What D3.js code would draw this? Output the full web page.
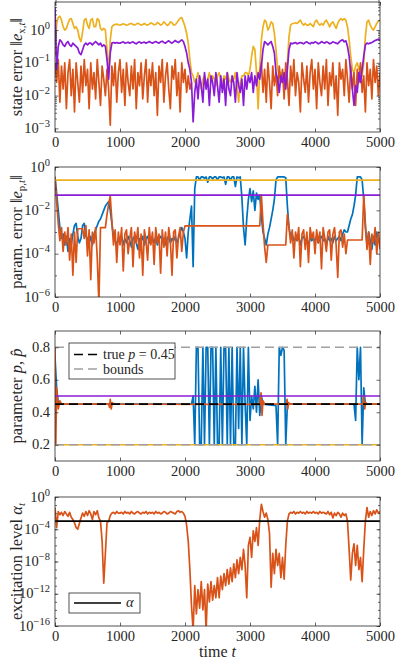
<!DOCTYPE html>
<html>
<head>
<meta charset="utf-8">
<title>estimation errors</title>
<style>
  body{margin:0;background:#fff;}
  text{font-family:"Liberation Serif",serif;font-size:14.5px;fill:#262626;}
  .box{fill:none;stroke:#262626;stroke-width:0.8;}
  .tick line{stroke:#262626;stroke-width:0.7;}
  .series{fill:none;stroke-width:1.7;stroke-linejoin:round;}
</style>
</head>
<body>
<script src="https://d3js.org/d3.v7.min.js"></script>
<script>
var tStep = 25;            // samples every 25 time steps, t = 0..5000
var xTicks = [0, 1000, 2000, 3000, 4000, 5000];

// panel 1: state error, log10 of ||e_x,t||
var stateYellow = [
  -0.8, 0.2, 0.38, 0.42, 0.3, 0.1, 0.0, 0.05, 0.2, 0.33, 0.35, 0.2, 0.05, 0.1, 0.0, -0.25, -0.35, -0.05, 0.3, 0.35,
  0.15, 0.05, 0.3, 0.35, 0.1, 0.1, 0.35, 0.3, 0.05, 0.0, 0.05, 0.0, -0.6, -1.3, -0.3, 0.1, 0.15, 0.17, 0.18, 0.16,
  0.15, 0.17, 0.19, 0.17, 0.15, 0.16, 0.19, 0.2, 0.17, 0.15, 0.18, 0.21, 0.18, 0.15, 0.17, 0.2, 0.17, 0.15, 0.18, 0.22,
  0.2, 0.16, 0.17, 0.23, 0.2, 0.15, 0.18, 0.25, 0.2, 0.14, 0.17, 0.25, 0.22, 0.15, 0.16, 0.22, 0.3, 0.36, 0.38, 0.25,
  0.1, -0.1, -0.4, -0.9, -1.3, -1.4, -1.6, -1.5, -1.3, -1.6, -1.8, -1.5, -1.4, -1.7, -1.5, -1.3, -1.6, -1.4, -1.5, -1.7,
  -1.4, -1.3, -1.5, -1.6, -1.4, -1.5, -1.3, -1.5, -1.6, -1.4, -1.5, -1.3, -1.7, -2.2, -1.6, -1.4, -1.4, -1.3, -1.3, -1.4,
  -1.2, -0.8, -0.5, -0.6, -1.3, -2.4, -1.2, -0.3, 0.1, 0.3, 0.25, 0.0, 0.1, 0.25, 0.2, -0.1, -0.6, -1.2, -1.4, -1.3,
  -1.5, -1.4, -1.3, -1.0, -0.2, 0.15, 0.2, 0.2, 0.22, 0.2, 0.25, 0.3, 0.2, 0.15, 0.2, 0.15, 0.15, 0.2, 0.15, 0.1,
  0.25, 0.3, 0.2, 0.15, 0.2, 0.15, 0.25, 0.3, 0.2, 0.1, 0.2, 0.25, 0.15, 0.05, 0.2, 0.3, 0.35, 0.3, 0.35, 0.3,
  0.1, -0.3, -0.8, -1.2, -1.3, -1.1, -1.0, -1.2, -1.1, -1.4, -1.0, -0.2, 0.25, 0.3, 0.15, 0.05, 0.0, 0.1, 0.2, 0.28,
  0.3];
var statePurple = [
  0.7, -1.2, -0.5, -0.3, -0.35, -0.45, -0.5, -0.4, -0.35, -0.45, -0.5, -0.4, -0.45, -0.5, -0.55, -0.7, -0.75, -0.6, -0.45, -0.4,
  -0.45, -0.4, -0.4, -0.45, -0.4, -0.35, -0.4, -0.45, -0.4, -0.5, -0.45, -0.5, -0.9, -1.5, -0.7, -0.4, -0.38, -0.4, -0.38, -0.4,
  -0.4, -0.38, -0.36, -0.4, -0.39, -0.37, -0.4, -0.38, -0.36, -0.4, -0.42, -0.38, -0.36, -0.4, -0.38, -0.37, -0.4, -0.38, -0.35, -0.38,
  -0.4, -0.37, -0.35, -0.38, -0.4, -0.36, -0.34, -0.38, -0.4, -0.36, -0.33, -0.37, -0.4, -0.36, -0.32, -0.36, -0.38, -0.34, -0.3, -0.35,
  -0.5, -0.7, -1.0, -1.2, -1.6, -2.8, -1.9, -1.5, -2.1, -1.4, -1.7, -2.2, -1.3, -1.8, -1.5, -2.3, -1.4, -1.6, -2.0, -1.3,
  -1.7, -2.2, -1.4, -1.9, -1.5, -2.3, -1.3, -1.8, -2.0, -1.4, -1.6, -2.2, -1.3, -1.7, -1.9, -1.5, -2.3, -1.4, -1.8, -1.4,
  -1.6, -1.3, -1.9, -1.4, -1.7, -1.3, -1.5, -1.1, -0.6, -0.35, -0.4, -0.45, -0.4, -0.35, -0.5, -0.7, -1.3, -1.5, -1.9, -1.4,
  -1.6, -1.3, -1.8, -1.2, -0.6, -0.4, -0.42, -0.4, -0.38, -0.42, -0.4, -0.38, -0.4, -0.42, -0.38, -0.36, -0.4, -0.42, -0.38, -0.4,
  -0.36, -0.38, -0.42, -0.4, -0.35, -0.38, -0.4, -0.36, -0.38, -0.42, -0.4, -0.36, -0.38, -0.4, -0.42, -0.36, -0.32, -0.3, -0.36, -0.33,
  -0.5, -0.8, -1.3, -1.8, -2.3, -1.7, -1.9, -1.3, -1.6, -1.2, -0.8, -0.45, -0.4, -0.42, -0.4, -0.38, -0.35, -0.32, -0.3, -0.28,
  -0.3];
// orange is hidden under the purple curve between t = 2125 and 3125
var stateOrange = [
  -1.0, -1.6, -0.9, -2.2, -1.1, -1.8, -1.0, -2.4, -1.3, -0.9, -2.0, -1.2, -2.5, -1.0, -1.6, -2.2, -1.1, -1.9, -0.9, -1.7,
  -1.2, -2.4, -1.0, -1.8, -1.3, -2.1, -0.9, -1.6, -2.3, -1.1, -1.5, -2.0, -1.2, -1.8, -2.9, -1.1, -1.7, -1.0, -2.2, -1.3,
  -0.9, -1.9, -1.2, -2.3, -1.0, -1.6, -2.0, -1.1, -1.8, -0.9, -2.4, -1.3, -1.7, -1.0, -2.1, -1.4, -0.9, -2.2, -1.2, -1.7,
  -1.0, -2.0, -1.3, -2.6, -1.1, -1.6, -0.9, -2.2, -1.4, -1.0, -1.8, -2.4, -1.1, -1.5, -0.9, -2.0, -1.3, -2.5, -1.0, -1.6,
  -1.2, -1.9, -1.4, -1.8, -1.6, null, null, null, null, null, null, null, null, null, null, null, null, null, null, null,
  null, null, null, null, null, null, null, null, null, null, null, null, null, null, null, null, null, null, null, null,
  null, null, null, null, null, null, -1.3, -1.0, -1.9, -1.2, -2.2, -1.0, -1.6, -2.4, -1.1, -1.7, -1.3, -2.0, -1.1, -1.6,
  -1.2, -2.1, -1.0, -1.5, -2.3, -1.1, -1.7, -0.9, -2.0, -1.3, -1.6, -2.5, -1.0, -1.5, -1.9, -1.1, -2.2, -1.3, -0.9, -1.8,
  -1.2, -2.4, -1.0, -1.6, -2.0, -1.1, -1.8, -0.9, -2.3, -1.3, -1.7, -1.0, -2.1, -1.4, -2.6, -1.0, -1.5, -1.2, -2.0, -0.9,
  -1.5, -2.2, -1.1, -1.8, -1.3, -2.3, -1.2, -1.6, -1.0, -1.9, -1.4, -2.5, -1.0, -1.7, -1.2, -2.1, -0.9, -1.6, -1.1, -2.0,
  -1.3];

// panel 2: parameter error, log10 of ||e_p,t||
var paramErrBlue = [
  -0.45, -1.2, -2.0, -2.8, -3.3, -3.1, -3.6, -3.2, -3.9, -3.3, -3.6, -3.1, -2.7, -2.6, -3.2, -3.5, -3.3, -2.7, -2.6, -3.2,
  -3.3, -3.5, -3.2, -3.6, -3.1, -2.9, -2.7, -2.5, -2.4, -2.2, -2.0, -1.8, -1.7, -1.6, -2.0, -2.6, -3.2, -3.4, -3.6, -3.3,
  -3.4, -3.2, -3.6, -3.3, -3.5, -3.2, -3.4, -3.7, -3.3, -3.2, -3.5, -3.8, -3.3, -3.4, -3.2, -3.6, -3.3, -3.2, -3.5, -3.3,
  -3.3, -3.5, -3.2, -3.6, -3.3, -3.2, -3.4, -3.3, -3.6, -3.3, -3.2, -3.5, -3.3, -3.4, -3.2, -3.5, -3.3, -3.0, -2.8, -3.0,
  -3.3, -4.2, -3.0, -2.4, -1.8, -4.6, -1.0, -0.46, -0.46, -0.6, -0.46, -0.46, -0.52, -0.46, -0.7, -0.46, -0.46, -0.55, -0.46, -0.46,
  -0.6, -0.46, -0.46, -0.5, -0.46, -0.8, -0.46, -0.46, -0.6, -0.46, -0.46, -0.9, -0.46, -0.5, -0.46, -1.4, -2.8, -3.6, -2.4, -1.5,
  -1.0, -1.6, -1.1, -2.0, -1.2, -1.5, -1.3, -2.3, -3.0, -3.3, -3.6, -3.1, -2.8, -2.4, -2.0, -1.5, -0.6, -0.46, -0.46, -0.46,
  -0.46, -0.46, -0.5, -1.8, -2.8, -3.2, -3.1, -3.4, -3.3, -3.4, -3.2, -3.6, -3.3, -3.2, -3.4, -3.3, -3.7, -3.2, -3.4, -3.3,
  -3.4, -3.2, -3.5, -3.3, -3.2, -3.4, -3.3, -3.6, -3.2, -3.4, -3.3, -3.5, -3.2, -3.4, -3.3, -3.2, -3.4, -3.1, -2.9, -3.0,
  -3.0, -2.7, -2.4, -2.2, -1.8, -1.3, -0.46, -0.46, -0.46, -0.6, -1.5, -2.8, -3.6, -3.0, -3.4, -3.8, -3.2, -3.6, -3.0, -3.3,
  -3.5];
var paramErrOrange = [
  -0.45, -1.6, -2.6, -3.4, -2.8, -3.9, -3.0, -3.6, -2.8, -4.3, -3.1, -5.0, -3.0, -4.4, -2.85, -2.85, -2.85, -2.85, -3.3, -2.7,
  -4.1, -2.9, -5.2, -3.0, -3.5, -2.8, -4.2, -6.3, -2.8, -2.8, -2.8, -2.8, -2.2, -1.7, -1.35, -2.5, -3.6, -2.9, -4.4, -3.0,
  -3.6, -2.8, -4.8, -3.1, -2.9, -4.0, -3.3, -2.8, -4.6, -3.0, -3.5, -2.8, -4.2, -3.1, -5.0, -2.9, -3.4, -4.3, -2.8, -3.6,
  -3.0, -4.5, -2.8, -3.5, -3.1, -4.9, -2.9, -3.7, -3.0, -4.1, -2.8, -3.4, -5.0, -3.0, -2.9, -4.2, -3.2, -2.8, -3.9, -3.0,
  -2.72, -2.72, -2.72, -2.72, -2.72, -2.72, -2.72, -2.72, -2.72, -2.72, -2.72, -2.72, -2.72, -2.72, -2.72, -2.72, -2.72, -2.72, -2.72, -2.72,
  -2.72, -2.72, -2.72, -2.72, -2.72, -2.72, -2.72, -2.72, -2.72, -2.72, -2.72, -2.72, -2.72, -2.72, -2.72, -2.72, -2.72, -2.72, -2.72, -2.72,
  -2.72, -2.72, -2.72, -2.72, -2.72, -2.72, -2.72, -1.3, -2.6, -3.7, -4.4, -3.6, -3.6, -3.6, -3.6, -3.6, -3.6, -3.6, -3.6, -3.6,
  -3.6, -3.6, -3.6, -2.2, -2.8, -3.5, -2.9, -4.2, -3.0, -3.4, -2.8, -4.6, -3.1, -2.9, -3.8, -3.0, -4.4, -2.8, -3.3, -3.0,
  -4.0, -2.9, -3.5, -3.0, -4.7, -2.8, -3.3, -3.9, -3.0, -2.9, -4.3, -3.1, -2.8, -3.6, -5.1, -3.0, -2.9, -3.7, -3.1, -4.0,
  -3.37, -3.37, -3.37, -3.37, -3.37, -3.37, -3.37, -3.37, -3.37, -3.37, -1.3, -2.6, -3.8, -3.0, -4.5, -3.1, -3.5, -2.8, -4.0, -3.0,
  -3.8];
var paramErrYellow = 0.25;   // estimate stuck on lower bound
var paramErrPurple = 0.05;   // estimate fixed at 0.5

// panel 3: estimates, [t, value] breakpoints
var estBlue = [[0, 0.74], [25, 0.55], [50, 0.46], [75, 0.45], [2100, 0.45], [2125, 0.5], [2150, 0.2], [2175, 0.8],
  [2200, 0.8], [2225, 0.2], [2250, 0.2], [2275, 0.8], [2300, 0.2], [2325, 0.8], [2350, 0.8], [2375, 0.2], [2400, 0.8],
  [2425, 0.8], [2450, 0.2], [2475, 0.8], [2500, 0.2], [2525, 0.2], [2550, 0.8], [2575, 0.2], [2600, 0.8], [2625, 0.8],
  [2650, 0.2], [2675, 0.8], [2700, 0.2], [2725, 0.8], [2750, 0.2], [2775, 0.2], [2800, 0.8], [2825, 0.3], [2850, 0.8],
  [2875, 0.2], [2900, 0.8], [2925, 0.45], [2950, 0.2], [2975, 0.8], [3000, 0.35], [3025, 0.5], [3050, 0.42], [3075, 0.56],
  [3100, 0.4], [3125, 0.6], [3150, 0.38], [3175, 0.5], [3200, 0.45], [3400, 0.44], [3425, 0.2], [3450, 0.8], [3475, 0.75],
  [3500, 0.8], [3525, 0.78], [3550, 0.2], [3575, 0.45], [4600, 0.45], [4625, 0.35], [4650, 0.8], [4675, 0.6], [4700, 0.8],
  [4725, 0.2], [4750, 0.55], [4775, 0.45], [5000, 0.45]];
var estOrange = [[0, 0.8], [12, 0.2], [25, 0.55], [50, 0.42], [75, 0.47], [100, 0.45], [825, 0.45], [840, 0.43],
  [850, 0.48], [865, 0.42], [880, 0.46], [900, 0.45], [3150, 0.448], [3170, 0.52], [3185, 0.38], [3200, 0.47], [3225, 0.45],
  [3560, 0.45], [3570, 0.48], [3580, 0.42], [3595, 0.46], [3610, 0.45], [4740, 0.45], [4750, 0.5], [4765, 0.42],
  [4780, 0.46], [4800, 0.45], [5000, 0.45]];
var estYellow = 0.2, estPurple = 0.5;
var pTrue = 0.45;
var pBounds = [0.2, 0.8];

// panel 4: excitation level, log10 of alpha_t
var excitation = [
  -1.3, -3.8, -1.8, -2.2, -1.9, -2.3, -1.8, -2.1, -2.4, -1.9, -2.5, -2.8, -3.2, -3.8, -4.0, -3.3, -2.6, -2.0, -2.4, -1.8,
  -2.3, -1.7, -2.1, -2.8, -1.8, -2.2, -1.7, -2.6, -3.0, -5.5, -10.7, -7.0, -3.2, -3.0, -2.3, -2.0, -1.9, -2.1, -1.8, -2.0,
  -2.0, -1.9, -2.1, -1.8, -2.0, -1.9, -2.1, -1.8, -2.0, -2.1, -1.9, -1.8, -2.0, -2.1, -1.9, -2.0, -1.8, -2.1, -1.9, -2.0,
  -1.9, -2.1, -1.8, -2.0, -1.9, -2.1, -2.0, -1.8, -1.9, -2.1, -2.0, -1.8, -1.9, -2.0, -2.1, -1.8, -1.7, -1.9, -1.8, -2.0,
  -2.4, -3.5, -5.5, -9.0, -13.5, -16.5, -11.0, -14.5, -11.5, -13.8, -10.5, -14.0, -11.5, -16.5, -10.8, -13.0, -10.5, -12.8, -11.0, -12.5,
  -10.0, -12.5, -9.8, -11.5, -9.5, -11.0, -9.0, -10.8, -8.8, -10.5, -8.3, -10.0, -7.8, -9.5, -7.5, -9.0, -6.5, -8.5, -12.5, -6.0,
  -5.0, -7.5, -4.2, -5.5, -3.8, -6.0, -2.8, -0.9, -1.8, -2.5, -2.0, -2.8, -4.5, -11.2, -7.0, -9.5, -6.5, -8.5, -7.0, -10.0,
  -7.5, -10.2, -6.0, -3.0, -2.1, -1.9, -2.0, -1.8, -2.1, -1.9, -2.0, -1.8, -2.0, -1.9, -2.1, -1.8, -2.0, -1.9, -2.0, -1.8,
  -2.0, -1.9, -2.1, -1.8, -2.0, -1.9, -2.0, -2.1, -1.8, -2.2, -1.9, -2.6, -2.0, -2.3, -1.9, -2.1, -2.5, -2.0, -2.3, -2.1,
  -3.0, -6.5, -10.3, -7.0, -5.8, -8.5, -6.0, -9.0, -7.5, -10.5, -6.5, -3.0, -1.3, -2.5, -1.8, -2.3, -1.7, -2.1, -1.6, -2.0,
  -1.8];
var alphaLevel = 1e-3;

var cYellow = "#EDB120", cPurple = "#8B1CD6", cOrange = "#D95319", cBlue = "#0072BD", cGray = "#A0A0A0";

var svg = d3.select("body").append("svg").attr("width", 397).attr("height", 662);
var x = d3.scaleLinear().domain([0, 5000]).range([55, 380]);

function grid(vals) {
  return vals.map(function(v, i) { return {t: i * tStep, v: v === null ? null : Math.pow(10, v)}; });
}
function pairs(vals) {
  return vals.map(function(d) { return {t: d[0], v: d[1]}; });
}

function makePanel(id, top, bottom, y) {
  var g = svg.append("g");
  g.append("clipPath").attr("id", id).append("rect")
    .attr("x", 55).attr("y", top).attr("width", 325).attr("height", bottom - top);
  var plot = g.append("g").attr("clip-path", "url(#" + id + ")");
  return {g: g, plot: plot, top: top, bottom: bottom, y: y};
}

function addLine(p, data, color, dash) {
  var line = d3.line()
    .defined(function(d) { return d.v !== null; })
    .x(function(d) { return x(d.t); })
    .y(function(d) { return p.y(d.v); });
  p.plot.append("path").datum(data).attr("class", "series")
    .attr("d", line).style("stroke", color)
    .style("stroke-dasharray", dash || null);
}

function addConst(p, v, color, dash) {
  addLine(p, [{t: 0, v: v}, {t: 5000, v: v}], color, dash);
}

function clean(sel) {
  sel.select(".domain").remove();
  sel.attr("font-family", null).attr("font-size", null);
}

function drawAxes(p, yTicks, yMinor, yFmt) {
  p.g.append("g").attr("transform", "translate(0," + p.bottom + ")")
    .call(d3.axisBottom(x).tickValues(xTicks).tickSize(-3.5).tickPadding(5).tickFormat(d3.format("d")))
    .call(clean);
  p.g.append("g").attr("transform", "translate(0," + p.top + ")")
    .call(d3.axisTop(x).tickValues(xTicks).tickSize(-3.5).tickFormat(""))
    .call(clean);
  [[55, d3.axisLeft], [380, d3.axisRight]].forEach(function(s) {
    p.g.append("g").attr("transform", "translate(" + s[0] + ",0)")
      .call(s[1](p.y).tickValues(yTicks).tickSize(-3.5).tickFormat(""))
      .call(clean);
    if (yMinor.length)
      p.g.append("g").attr("transform", "translate(" + s[0] + ",0)")
        .call(s[1](p.y).tickValues(yMinor).tickSize(-2).tickFormat(""))
        .call(clean);
  });
  p.g.append("rect").attr("class", "box")
    .attr("x", 55).attr("y", p.top).attr("width", 325).attr("height", p.bottom - p.top);

  yTicks.forEach(function(v) {
    var t = p.g.append("text").attr("x", 50).attr("y", p.y(v) + 4.5).attr("text-anchor", "end");
    if (yFmt === "log") {
      var e = Math.round(Math.log10(v));
      t.append("tspan").text("10");
      t.append("tspan").attr("dy", -6).style("font-size", "10.5px")
        .text(e < 0 ? "\u2212" + (-e) : String(e));
    } else {
      t.text(d3.format(".1f")(v));
    }
  });
}

// text built from pieces: {s: string, i: italic, sub: subscript}
function richText(sel, parts) {
  var shift = 0;
  parts.forEach(function(q) {
    var want = q.sub ? 3.5 : 0;
    var ts = sel.append("tspan").text(q.s);
    if (want !== shift) { ts.attr("dy", want - shift); shift = want; }
    if (q.i) ts.style("font-style", "italic");
    if (q.sub) ts.style("font-size", "11px");
  });
}

function yLabel(p, parts) {
  var t = p.g.append("text").attr("text-anchor", "middle").style("font-size", "16.5px")
    .attr("transform", "translate(21.5," + (p.top + p.bottom) / 2 + ")rotate(-90)");
  richText(t, parts);
}

function decades(lo, hi, sub) {
  var out = [];
  for (var e = lo; e < hi; e++) {
    if (sub) for (var k = 2; k < 10; k++) out.push(k * Math.pow(10, e));
    else out.push(Math.pow(10, e));
  }
  return out;
}

// panel 1
var p1 = makePanel("c1", 2, 132, d3.scaleLog().domain([Math.pow(10, -3.11), Math.pow(10, 0.855)]).range([132, 2]));
addLine(p1, grid(stateYellow), cYellow);
addLine(p1, grid(stateOrange), cOrange);
addLine(p1, grid(statePurple), cPurple);
drawAxes(p1, [1e-3, 1e-2, 1e-1, 1], decades(-3, 1, true), "log");
yLabel(p1, [{s: "state error \u2016"}, {s: "e", i: 1}, {s: "x,", sub: 1}, {s: "t", sub: 1, i: 1}, {s: "\u2016"}]);

// panel 2
var p2 = makePanel("c2", 167, 297, d3.scaleLog().domain([1e-6, 1]).range([297, 167]));
addLine(p2, grid(paramErrBlue), cBlue);
addLine(p2, grid(paramErrOrange), cOrange);
addConst(p2, paramErrYellow, cYellow);
addConst(p2, paramErrPurple, cPurple);
drawAxes(p2, [1e-6, 1e-4, 1e-2, 1], decades(-6, 0, false).filter(function(v) { return Math.round(Math.log10(v)) % 2 !== 0; }), "log");
yLabel(p2, [{s: "param. error \u2016"}, {s: "e", i: 1}, {s: "p,", sub: 1}, {s: "t", sub: 1, i: 1}, {s: "\u2016"}]);

// panel 3
var p3 = makePanel("c3", 331, 461, d3.scaleLinear().domain([0.1, 0.9]).range([461, 331]));
addLine(p3, pairs(estBlue), cBlue);
addLine(p3, pairs(estOrange), cOrange);
addConst(p3, estYellow, cYellow);
addConst(p3, estPurple, cPurple);
addConst(p3, pTrue, "#000", "9,5");
pBounds.forEach(function(b) { addConst(p3, b, cGray, "9,5"); });
drawAxes(p3, [0.2, 0.4, 0.6, 0.8], [], "lin");
yLabel(p3, [{s: "parameter "}, {s: "p", i: 1}, {s: ", "}, {s: "p\u0302", i: 1}]);

// legend panel 3
var lg3 = p3.g.append("g");
lg3.append("rect").attr("class", "box").attr("x", 69).attr("y", 343).attr("width", 106).attr("height", 36).style("fill", "#fff");
[["#000", [{s: "true "}, {s: "p", i: 1}, {s: " = " + pTrue}]], [cGray, [{s: "bounds"}]]].forEach(function(e, i) {
  var yy = 354.5 + i * 14.5;
  lg3.append("line").attr("x1", 74).attr("x2", 98).attr("y1", yy).attr("y2", yy)
    .style("stroke", e[0]).style("stroke-width", 1.5).style("stroke-dasharray", "9,5");
  richText(lg3.append("text").attr("x", 103).attr("y", yy + 4.5).style("font-size", "14px"), e[1]);
});

// panel 4
var p4 = makePanel("c4", 497, 626, d3.scaleLog().domain([1e-16, 1]).range([626, 497]));
addLine(p4, grid(excitation), cOrange);
addConst(p4, alphaLevel, "#000");
drawAxes(p4, [1e-16, 1e-12, 1e-8, 1e-4, 1], decades(-16, 0, false), "log");
yLabel(p4, [{s: "excitation level "}, {s: "\u03b1", i: 1}, {s: "t", sub: 1, i: 1}]);

var lg4 = p4.g.append("g");
lg4.append("rect").attr("class", "box").attr("x", 69).attr("y", 593).attr("width", 71).attr("height", 20).style("fill", "#fff");
lg4.append("line").attr("x1", 74).attr("x2", 121).attr("y1", 603).attr("y2", 603)
  .style("stroke", "#000").style("stroke-width", 1.5);
lg4.append("text").attr("x", 126).attr("y", 607).style("font-style", "italic").text("\u03b1");

var xl = svg.append("text").attr("x", 217.5).attr("y", 657).attr("text-anchor", "middle").style("font-size", "16px");
richText(xl, [{s: "time "}, {s: "t", i: 1}]);
</script>
</body>
</html>
